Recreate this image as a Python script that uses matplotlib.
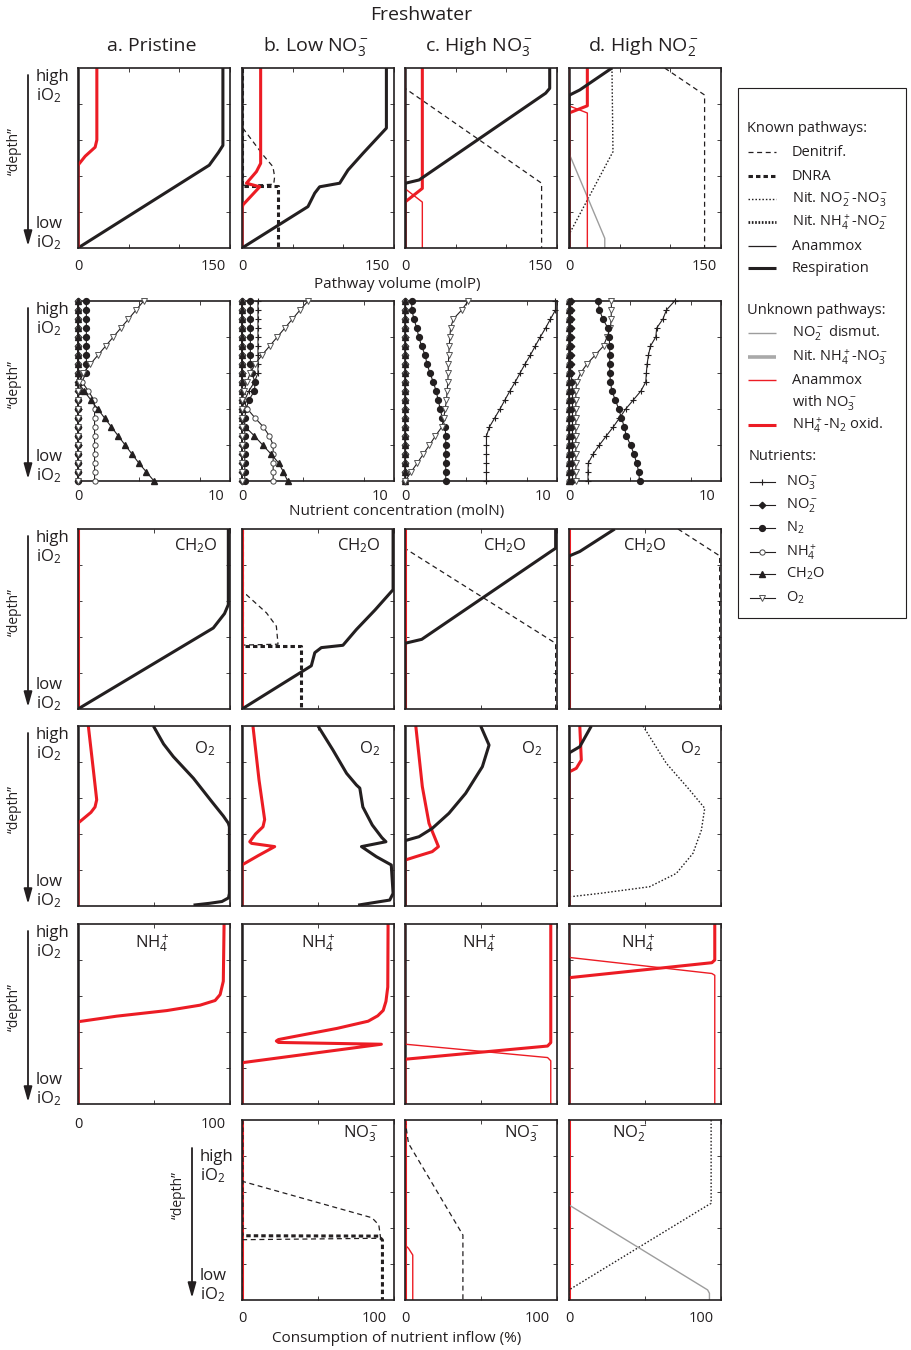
import matplotlib.pyplot as plt
from matplotlib.patches import Rectangle

plt.rcParams['font.family'] = ['Open Sans', 'DejaVu Sans']
plt.rcParams['mathtext.fontset'] = 'custom'
plt.rcParams['mathtext.rm'] = 'Open Sans'
plt.rcParams['mathtext.it'] = 'Open Sans:italic'
plt.rcParams['mathtext.bf'] = 'Open Sans:bold'
plt.rcParams['mathtext.default'] = 'regular'
plt.rcParams['lines.scale_dashes'] = False
plt.rcParams['text.color'] = '#231f20'

# ---------------- data: (depth, value), depth 0 = high iO2, 1 = low iO2 ----------------
zero_path = [(0, 0), (1, 0)]

# row 1: pathway volume (molP)
vol_a_resp = [(0, 143), (.43, 143), (.47, 138.5), (.54, 129.5), (1, 0)]
vol_a_nh4ox = [(0, 18.6), (.40, 18.6), (.44, 16.9), (.49, 7.1), (.54, 0), (1, 0)]
vol_b_resp = [(0, 142.5), (.334, 142.5), (.474, 119.4), (.567, 104.6), (.64, 96.4), (.66, 76.6),
              (.695, 71.8), (.77, 65.1), (1, 0)]
vol_b_nh4ox = [(0, 18.4), (.53, 18.4), (.576, 14.2), (.64, 4.4), (.66, 17.5), (.76, 1), (.78, 0), (1, 0)]
vol_b_denit = [(0, 0), (.33, 0), (.335, 1), (.483, 20.7), (.548, 30.5), (.604, 32.2), (.646, 31.3),
               (.652, 0), (1, 0)]
vol_b_dnra = [(0, 0), (.654, 0), (.654, 35.5), (1, 35.5)]
vol_c_resp = [(0, 142.8), (.113, 142.8), (.14, 138.8), (.622, 13.9), (.64, 0.6), (.65, 0), (1, 0)]
vol_c_nh4ox = [(0, 17.1), (.669, 17.1), (.745, 0), (1, 0)]
vol_c_amxno3 = [(0, 0), (.67, 0), (.745, 17.1), (1, 17.1)]
vol_c_denit = [(0, 0), (.113, 0), (.64, 134.8), (1, 134.8)]
vol_d_resp = [(0, 42.4), (.122, 10.6), (.15, 0.7), (.16, 0), (1, 0)]
vol_d_nh4ox = [(0, 18.1), (.21, 18.1), (.25, 0), (1, 0)]
vol_d_amxno3 = [(0, 0), (.21, 0), (.25, 18.1), (1, 18.1)]
vol_d_nitox = [(0, 42.4), (.465, 43.4), (.918, 0.7), (.93, 0), (1, 0)]
vol_d_denit = [(0, 94.4), (.15, 133.8), (1, 133.8)]
vol_d_dismut = [(0, 0), (.483, 0.7), (.946, 35.3), (1, 35.3)]

# row 2: nutrient concentration (molN)
nut_depth = [0.0, 0.05, 0.1, 0.15, 0.2, 0.25, 0.3, 0.35, 0.4, 0.45, 0.5,
             0.55, 0.6, 0.65, 0.7, 0.75, 0.8, 0.85, 0.9, 0.95, 1.0]
nut_zero = [0, 0, 0, 0, 0, 0, 0, 0, 0, 0, 0, 0, 0, 0, 0, 0, 0, 0, 0, 0, 0]
nut_a_n2 = [.55, .55, .55, .55, .55, .55, .55, .55, .55, .23, .09, 0, 0, 0, 0, 0, 0, 0, 0, 0, 0]
nut_a_nh4 = [0, 0, 0, 0, 0, 0, 0, 0, 0, .27, .68, 1.05, 1.09, 1.09, 1.09, 1.09, 1.09, 1.09, 1.09, 1.09, 1.09]
nut_a_ch2o = [0, 0, 0, 0, 0, 0, 0, 0, 0, 0, .4, .85, 1.3, 1.75, 2.2, 2.65, 3.1, 3.55, 4.0, 4.5, 5.0]
nut_a_o2 = [4.32, 3.82, 3.32, 2.82, 2.32, 1.82, 1.32, .82, .36, .09, 0, 0, 0, 0, 0, 0, 0, 0, 0, 0, 0]
nut_b_no3 = [1.05, 1.05, 1.05, 1.05, 1.05, 1.05, 1.05, 1.05, 1.05, .82, .45, .18, 0, 0, 0, 0, 0, 0, 0, 0, 0]
nut_b_n2 = [.55, .55, .55, .55, .55, .55, .55, .55, .64, .86, .82, .45, .27, .18, .18, .18, .18, .18, .18, .18, .18]
nut_b_nh4 = [0, 0, 0, 0, 0, 0, 0, 0, 0, 0, 0, .09, .36, .86, 1.41, 1.8, 2.05, 2.05, 2.05, 2.05, 2.05]
nut_b_ch2o = [0, 0, 0, 0, 0, 0, 0, 0, 0, 0, 0, 0, 0, 0, .23, .82, 1.36, 1.91, 2.41, 2.73, 3.0]
nut_b_o2 = [4.35, 3.82, 3.32, 2.82, 2.32, 1.82, 1.32, .86, .55, .32, .14, 0, 0, 0, 0, 0, 0, 0, 0, 0, 0]
nut_c_no3 = [9.9, 9.9, 9.57, 9.25, 8.9, 8.57, 8.25, 7.9, 7.57, 7.25, 6.9, 6.57, 6.25, 5.9, 5.55,
             5.36, 5.36, 5.36, 5.36, 5.36, 5.36]
nut_c_n2 = [.44, .45, .59, .77, .91, 1.09, 1.32, 1.45, 1.64, 1.86, 2.05, 2.18, 2.32, 2.45, 2.64,
            2.68, 2.68, 2.68, 2.68, 2.68, 2.68]
nut_c_o2 = [4.16, 3.73, 3.18, 3.0, 2.95, 2.91, 2.88, 2.85, 2.84, 2.82, 2.77, 2.73, 2.64, 2.55, 2.42,
            2.0, 1.61, 1.21, .81, .4, 0]
nut_d_no3 = [6.95, 6.41, 6.18, 5.77, 5.71, 5.36, 5.23, 5.14, 5.09, 5.05, 4.73, 4.23, 3.73, 3.32, 2.91,
             2.45, 2.0, 1.59, 1.27, 1.25, 1.25]
nut_d_n2 = [1.91, 2.0, 2.23, 2.55, 2.64, 2.68, 2.68, 2.68, 2.68, 2.73, 2.82, 3.05, 3.27, 3.45, 3.64,
            3.77, 4.05, 4.27, 4.45, 4.59, 4.64]
nut_d_o2 = [2.79, 2.79, 2.77, 2.73, 2.5, 2.27, 1.73, 1.18, .77, .5, .45, .45, .45, .45, .45,
            .45, .45, .45, .45, .45, .45]
nut_d_no2 = [.1, .1, .1, .1, .1, .1, .1, .1, .1, .2, .23, .23, .23, .23, .23, .23, .23, .23, .23, .23, .23]

# row 3: consumption of CH2O inflow (%)
ch2o_a_resp = [(0, 98.9), (.42, 98.9), (.47, 96.4), (.55, 89), (1, 0)]
ch2o_b_resp = [(0, 99.4), (.337, 99.4), (.45, 87.5), (.558, 75.3), (.646, 66.4), (.659, 52.2),
               (.687, 47.9), (.76, 45.6), (1, 0)]
ch2o_b_denit = [(0, 0), (.36, 0), (.365, 2.9), (.466, 16.1), (.54, 22.6), (.64, 23.7), (.645, 0), (1, 0)]
ch2o_b_dnra = [(0, 0), (.65, 0), (.65, 39.1), (1, 39.1)]
ch2o_c_resp = [(0, 99.1), (.107, 99.1), (.125, 95.9), (.613, 11), (.635, 0), (1, 0)]
ch2o_c_denit = [(0, 0), (.11, 0.4), (.635, 99.1), (1, 99.1)]
ch2o_d_resp = [(0, 30.1), (.125, 7.1), (.149, 0.4), (.155, 0), (1, 0)]
ch2o_d_denit = [(0, 71.7), (.149, 99.1), (1, 99.1)]

# row 4: consumption of O2 inflow (%)
o2_a_resp = [(0, 49.6), (.1, 56.3), (.17, 62.7), (.29, 75.9), (.42, 88), (.5, 95.6), (.54, 98.9),
             (.56, 99.6), (.93, 99.6), (.955, 99), (.975, 94.7), (.985, 86.6), (.995, 76)]
o2_a_nh4ox = [(0, 6.8), (.244, 10.1), (.41, 12.3), (.45, 11.2), (.48, 8.5), (.54, 0), (1, 0)]
o2_b_resp = [(0, 50), (.133, 59.8), (.263, 68.8), (.328, 75.3), (.345, 77.5), (.45, 79.5), (.55, 85.7),
             (.62, 92), (.643, 94.7), (.67, 78.6), (.726, 88.4), (.772, 98.2), (.93, 99.4),
             (.967, 97.2), (.995, 76.4)]
o2_b_nh4ox = [(0, 7.2), (.3, 11.2), (.52, 14.9), (.56, 13.8), (.6, 8.9), (.643, 5.1), (.652, 6.3),
              (.67, 21.5), (.72, 10.7), (.772, 0), (1, 0)]
o2_c_resp = [(0, 49.8), (.106, 55.3), (.226, 50.9), (.374, 39.9), (.485, 28.9), (.569, 17.9),
             (.615, 9.2), (.637, 0), (1, 0)]
o2_c_nh4ox = [(0, 7.1), (.337, 11.4), (.541, 15.8), (.67, 22), (.698, 17.9), (.726, 7.1), (.744, 0.4),
              (.75, 0), (1, 0)]
o2_d_resp = [(0, 14.7), (.115, 7.1), (.148, 0.4), (.155, 0), (1, 0)]
o2_d_nh4ox = [(0, 7.1), (.189, 8.1), (.235, 4.8), (.254, 0.4), (.26, 0), (1, 0)]
o2_d_nitox = [(0, 48.7), (.207, 64), (.356, 79.4), (.457, 89.3), (.578, 87.1), (.707, 81.6),
              (.819, 70.6), (.893, 53), (.93, 20.2), (.948, 1.5)]

# row 5: consumption of NH4+ inflow (%)
nh4_a_nh4ox = [(0, 96.1), (.318, 95.6), (.392, 93.5), (.425, 90.2), (.451, 80.3), (.481, 58.4),
               (.512, 25.5), (.543, 0), (1, 0)]
nh4_b_nh4ox = [(0, 96.1), (.35, 95.9), (.43, 94.7), (.48, 92.9), (.51, 89.3), (.54, 83), (.58, 62.5),
               (.63, 31.3), (.642, 24), (.65, 22.6), (.658, 24), (.668, 91.7), (.77, 0.6), (.78, 0), (1, 0)]
nh4_c_nh4ox = [(0, 95.9), (.659, 95.9), (.678, 93.8), (.751, 0.4), (.76, 0), (1, 0)]
nh4_c_amxno3 = [(0, 0), (.668, 0.4), (.742, 93.8), (.76, 95.9), (1, 95.9)]
nh4_d_nh4ox = [(0, 95.9), (.2, 95.9), (.215, 94), (.298, 0.4), (.305, 0), (1, 0)]
nh4_d_amxno3 = [(0, 0), (.186, 0.4), (.275, 94), (.285, 95.9), (1, 95.9)]

# row 6: consumption of NO3- / NO2- inflow (%)
no3_b_denit = [(0, 0), (.34, 0), (.343, 1.2), (.543, 85.5), (.583, 90), (.657, 91.2), (.665, 0), (1, 0)]
no3_b_dnra = [(0, 0), (.643, 0), (.645, 90), (.667, 92.4), (1, 92.4)]
no3_c_denit = [(0, 0), (.13, 2.3), (.639, 38.1), (1, 38.1)]
no3_c_amxno3 = [(0, 0), (.694, 0), (.713, 2.3), (.75, 5.1), (1, 5.1)]
no2_d_nitox = [(0, 93.5), (.463, 93.5), (.475, 91), (.944, 0), (1, 0)]
no2_d_dismut = [(0, 0), (.472, 0), (.944, 91.2), (.963, 92.4), (1, 92.4)]

col_titles = ['a. Pristine', 'b. Low NO$_3^-$', 'c. High NO$_3^-$', 'd. High NO$_2^-$']

# ---------------- styles ----------------
RED = '#ec1c24'
INK = '#231f20'
STY = {
    'zero': dict(color=INK, lw=1.8),
    'denit': dict(color=INK, lw=0.9, dashes=(3.6, 2.6)),
    'dnra': dict(color=INK, lw=2.2, dashes=(3.2, 2.2)),
    'nitox': dict(color=INK, lw=1.0, dashes=(1.1, 1.4)),
    'ammox': dict(color=INK, lw=2.0, dashes=(1.2, 1.2)),
    'amx': dict(color=INK, lw=0.9),
    'resp': dict(color=INK, lw=2.2),
    'dismut': dict(color='#9d9d9d', lw=1.0),
    'nitr': dict(color='#a9a9a9', lw=2.6),
    'amxno3': dict(color=RED, lw=1.0),
    'nh4ox': dict(color=RED, lw=2.2),
}
NUT = {
    'no3': dict(marker='+', ms=5, mew=0.8, mfc=INK, mec=INK),
    'no2': dict(marker='D', ms=3.3, mfc=INK, mec=INK),
    'n2': dict(marker='o', ms=4.2, mfc=INK, mec=INK),
    'nh4': dict(marker='o', ms=3.8, mfc='white', mec='#444444', mew=0.7),
    'ch2o': dict(marker='^', ms=4.6, mfc=INK, mec=INK),
    'o2': dict(marker='v', ms=4.6, mfc='white', mec='#555555', mew=0.7),
}

rows = [
    [[(vol_a_resp, 'resp'), (vol_a_nh4ox, 'nh4ox')],
     [(vol_b_denit, 'denit'), (vol_b_dnra, 'dnra'), (vol_b_nh4ox, 'nh4ox'), (vol_b_resp, 'resp')],
     [(vol_c_denit, 'denit'), (vol_c_amxno3, 'amxno3'), (vol_c_nh4ox, 'nh4ox'), (vol_c_resp, 'resp')],
     [(vol_d_denit, 'denit'), (vol_d_nitox, 'nitox'), (vol_d_dismut, 'dismut'),
      (vol_d_amxno3, 'amxno3'), (vol_d_nh4ox, 'nh4ox'), (vol_d_resp, 'resp')]],
    None,
    [[(zero_path, 'nh4ox'), (ch2o_a_resp, 'resp')],
     [(ch2o_b_denit, 'denit'), (ch2o_b_dnra, 'dnra'), (zero_path, 'nh4ox'), (ch2o_b_resp, 'resp')],
     [(ch2o_c_denit, 'denit'), (zero_path, 'nh4ox'), (ch2o_c_resp, 'resp')],
     [(ch2o_d_denit, 'denit'), (zero_path, 'nh4ox'), (ch2o_d_resp, 'resp')]],
    [[(o2_a_nh4ox, 'nh4ox'), (o2_a_resp, 'resp')],
     [(o2_b_nh4ox, 'nh4ox'), (o2_b_resp, 'resp')],
     [(o2_c_nh4ox, 'nh4ox'), (o2_c_resp, 'resp')],
     [(o2_d_nitox, 'nitox'), (o2_d_nh4ox, 'nh4ox'), (o2_d_resp, 'resp')]],
    [[(nh4_a_nh4ox, 'nh4ox')],
     [(nh4_b_nh4ox, 'nh4ox')],
     [(nh4_c_amxno3, 'amxno3'), (nh4_c_nh4ox, 'nh4ox')],
     [(nh4_d_amxno3, 'amxno3'), (nh4_d_nh4ox, 'nh4ox')]],
    [None,
     [(zero_path, 'nh4ox'), (no3_b_denit, 'denit'), (no3_b_dnra, 'dnra')],
     [(zero_path, 'nh4ox'), (no3_c_denit, 'denit'), (no3_c_amxno3, 'amxno3')],
     [(zero_path, 'nh4ox'), (no2_d_nitox, 'nitox'), (no2_d_dismut, 'dismut')]],
]
nut_panels = [
    [(nut_zero, 'no3'), (nut_zero, 'no2'), (nut_a_n2, 'n2'), (nut_a_nh4, 'nh4'), (nut_a_ch2o, 'ch2o'), (nut_a_o2, 'o2')],
    [(nut_zero, 'no2'), (nut_b_no3, 'no3'), (nut_b_n2, 'n2'), (nut_b_nh4, 'nh4'), (nut_b_ch2o, 'ch2o'), (nut_b_o2, 'o2')],
    [(nut_zero, 'no2'), (nut_zero, 'nh4'), (nut_zero, 'ch2o'), (nut_c_no3, 'no3'), (nut_c_n2, 'n2'), (nut_c_o2, 'o2')],
    [(nut_zero, 'nh4'), (nut_zero, 'ch2o'), (nut_d_no2, 'no2'), (nut_d_o2, 'o2'), (nut_d_n2, 'n2'), (nut_d_no3, 'no3')],
]
row_xmax = [150, 10, 100, 100, 100, 100]
row_xticks = [[0, 50, 100, 150], [0, 4, 8, 10], [0, 50, 100], [0, 50, 100], [0, 50, 100], [0, 50, 100]]
row_tag = [None, None, ('CH$_2$O', [.776, .77, .66, .5], 21),
           ('O$_2$', [.83, .84, .83, .8], 27),
           ('NH$_4^+$', [.49, .5, .49, .455], 23),
           (['', 'NO$_3^-$', 'NO$_3^-$', 'NO$_2^-$'], [0, .78, .77, .4], 18)]

# ---------------- layout (pixels) ----------------
W, H = 912, 1350
PW, PH = 152, 180
col_left = [78, 242, 405, 569]
row_top = [68, 301, 529, 726, 924, 1120]

fig = plt.figure(figsize=(W / 100, H / 100), dpi=100)
lay = fig.add_axes([0, 0, 1, 1])
lay.set_xlim(0, W)
lay.set_ylim(H, 0)
lay.axis('off')


def draw_curve(ax, curve, key):
    d = [p[0] for p in curve]
    v = [p[1] for p in curve]
    ax.plot(v, d, solid_capstyle='butt', dash_capstyle='butt', solid_joinstyle='round', **STY[key])


axes = {}
for r in range(6):
    for c in range(4):
        if r == 5 and c == 0:
            continue
        ax = fig.add_axes([col_left[c] / W, 1 - (row_top[r] + PH) / H, PW / W, PH / H])
        axes[(r, c)] = ax
        ax.set_xlim(0, row_xmax[r])
        ax.set_ylim(1, 0)
        ax.set_yticks([0.2, 0.4, 0.6, 0.8])
        ax.set_xticks(row_xticks[r])
        ax.set_yticklabels([])
        ax.set_xticklabels([])
        ax.tick_params(direction='in', length=3, width=0.6, top=True, right=True, color=INK)
        for s in ax.spines.values():
            s.set_linewidth(1.2)
            s.set_color(INK)
        if r == 1:
            for vals, key in nut_panels[c]:
                ax.plot(vals, nut_depth, color=INK, lw=0.8, clip_on=False, zorder=3, **NUT[key])
        else:
            draw_curve(ax, zero_path, 'zero')
            for curve, key in rows[r][c]:
                draw_curve(ax, curve, key)
        tag = row_tag[r]
        if tag is not None:
            txt = tag[0][c] if isinstance(tag[0], list) else tag[0]
            ax.text(tag[1][c], 1 - tag[2] / PH, txt, transform=ax.transAxes,
                    ha='center', va='baseline', fontsize=12)

# tick labels (placed as in the original, last one pulled inside)
lab_rows = {0: ('150', .888, 18), 1: ('10', .908, 16), 5: ('100', .87, 18)}
for (r, c), ax in axes.items():
    if r in lab_rows:
        s, fx, dy = lab_rows[r]
        ax.text(0, -dy / PH, '0', transform=ax.transAxes, ha='center', va='center', fontsize=10.5)
        ax.text(fx, -dy / PH, s, transform=ax.transAxes, ha='center', va='center', fontsize=10.5)
axa = axes[(4, 0)]
axa.text(0, -21 / PH, '0', transform=axa.transAxes, ha='center', va='center', fontsize=10.5)
axa.text(.888, -21 / PH, '100', transform=axa.transAxes, ha='center', va='center', fontsize=10.5)

# titles and axis labels
lay.text(421, 15, 'Freshwater', ha='center', va='center', fontsize=14)
for c in range(4):
    lay.text(col_left[c] + PW / 2 - 2, 46, col_titles[c], ha='center', va='center', fontsize=14)
lay.text(397, 284, 'Pathway volume (molP)', ha='center', va='center', fontsize=11)
lay.text(397, 512, 'Nutrient concentration (molN)', ha='center', va='center', fontsize=11)
lay.text(397, 1338, 'Consumption of nutrient inflow (%)', ha='center', va='center', fontsize=11)

# depth labels on the left
def depth_label(x0, top, bottom, high_off, arrow_top, depth_y):
    lay.text(x0 - 42, top + high_off, 'high', ha='left', va='baseline', fontsize=12)
    lay.text(x0 - 42, top + high_off + 19, 'iO$_2$', ha='left', va='baseline', fontsize=12)
    lay.text(x0 - 42, bottom - 20, 'low', ha='left', va='baseline', fontsize=12)
    lay.text(x0 - 42, bottom - 1, 'iO$_2$', ha='left', va='baseline', fontsize=12)
    lay.annotate('', xy=(x0 - 50, bottom - 2), xytext=(x0 - 50, arrow_top),
                 arrowprops=dict(arrowstyle='-|>,head_length=0.9,head_width=0.25', lw=1.3,
                                 color=INK, shrinkA=0, shrinkB=0))
    lay.text(x0 - 64, depth_y, '\u201cdepth\u201d', rotation=90, ha='center', va='center', fontsize=10)


for r in range(5):
    depth_label(col_left[0], row_top[r], row_top[r] + PH, 13, row_top[r] + 7, row_top[r] + 83)
depth_label(col_left[1], row_top[5], row_top[5] + PH, 41, row_top[5] + 28, row_top[5] + 75)

# legend box
lay.add_patch(Rectangle((738, 88), 168, 530, fill=False, lw=0.8, ec=INK))
FS = 10.5
lay.text(747, 128, 'Known pathways:', va='center', fontsize=FS)
known = [('Denitrif.', 'denit', 152), ('DNRA', 'dnra', 176), ('Nit. NO$_2^-$-NO$_3^-$', 'nitox', 199),
         ('Nit. NH$_4^+$-NO$_2^-$', 'ammox', 222), ('Anammox', 'amx', 246), ('Respiration', 'resp', 268)]
unknown = [('NO$_2^-$ dismut.', 'dismut', 333), ('Nit. NH$_4^+$-NO$_3^-$', 'nitr', 357),
           ('Anammox', 'amxno3', 380), ('NH$_4^+$-N$_2$ oxid.', 'nh4ox', 425)]
for label, key, y in known + unknown:
    lay.plot([748, 776], [y, y], solid_capstyle='butt', dash_capstyle='butt', **STY[key])
    lay.text(792, y, label, va='center', fontsize=FS)
lay.text(792, 403, 'with NO$_3^-$', va='center', fontsize=FS)
lay.text(747, 310, 'Unknown pathways:', va='center', fontsize=FS)
lay.text(749, 457, 'Nutrients:', va='center', fontsize=FS)
nutl = [('NO$_3^-$', 'no3', 482), ('NO$_2^-$', 'no2', 505), ('N$_2$', 'n2', 528),
        ('NH$_4^+$', 'nh4', 552), ('CH$_2$O', 'ch2o', 574), ('O$_2$', 'o2', 598)]
for label, key, y in nutl:
    lay.plot([750, 762, 775], [y, y, y], color=INK, lw=0.8, markevery=[1], **NUT[key])
    lay.text(786, y, label, va='center', fontsize=FS)

fig.savefig('out.png', dpi=100, facecolor='white')
